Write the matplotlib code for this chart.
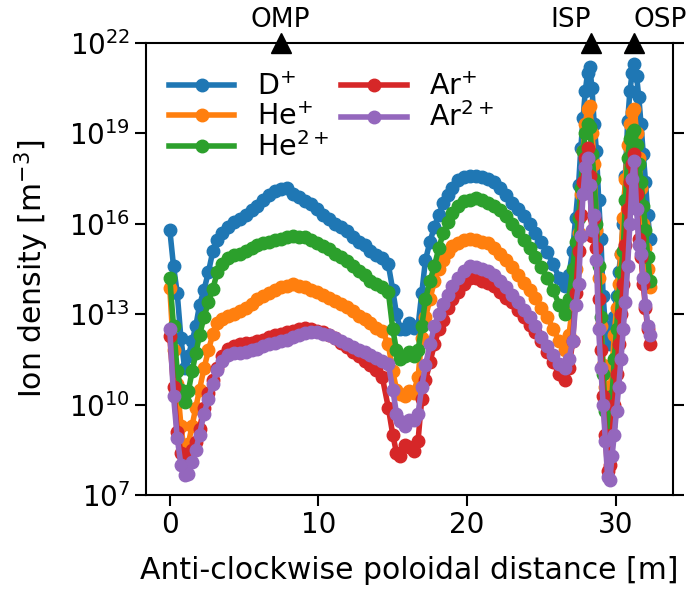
import numpy as np
import matplotlib
matplotlib.use("Agg")
import matplotlib.pyplot as plt
from matplotlib.ticker import NullLocator

# poloidal distance [m]
distance = [
    0.0, 0.25, 0.5, 0.75, 1.0, 1.25, 1.5, 1.75, 2.0, 2.3,
    2.6, 2.9, 3.2, 3.5, 3.9, 4.3, 4.7, 5.1, 5.5, 5.9,
    6.3, 6.7, 7.1, 7.5, 7.9, 8.3, 8.7, 9.1, 9.5, 9.9,
    10.3, 10.7, 11.1, 11.5, 11.9, 12.3, 12.7, 13.1, 13.5, 13.9,
    14.3, 14.7, 15.0, 15.25, 15.5, 15.8, 16.1, 16.4, 16.7, 16.95,
    17.2, 17.5, 17.8, 18.1, 18.4, 18.7, 19.0, 19.4, 19.8, 20.2,
    20.6, 21.0, 21.4, 21.8, 22.2, 22.6, 23.0, 23.4, 23.8, 24.2,
    24.6, 25.0, 25.4, 25.8, 26.2, 26.6, 26.85, 27.1, 27.3, 27.5,
    27.65, 27.8, 27.95, 28.1, 28.25, 28.4, 28.55, 28.7, 28.85, 29.0,
    29.15, 29.3, 29.45, 29.6, 29.75, 29.9, 30.05, 30.2, 30.35, 30.5,
    30.65, 30.8, 30.95, 31.1, 31.25, 31.4, 31.55, 31.7, 31.85, 32.0,
    32.15, 32.3,
]

# log10 of ion density [m^-3]
log_D1 = [
    15.8, 14.6, 13.7, 12.2, 11.2, 11.6, 12.1, 12.6, 13.3, 13.8,
    14.4, 15.1, 15.45, 15.7, 15.9, 16.05, 16.15, 16.3, 16.45, 16.6,
    16.8, 16.95, 17.1, 17.15, 17.2, 17.0, 16.9, 16.75, 16.65, 16.5,
    16.3, 16.15, 16.0, 15.9, 15.75, 15.55, 15.4, 15.3, 15.1, 14.95,
    14.85, 14.65, 13.8, 13.0, 12.5, 12.5, 12.7, 12.55, 12.6, 13.7,
    14.8, 15.4, 15.9, 16.3, 16.7, 16.95, 17.2, 17.45, 17.55, 17.6,
    17.6, 17.55, 17.5, 17.4, 17.2, 16.95, 16.7, 16.5, 16.25, 16.0,
    15.7, 15.4, 15.05, 14.65, 14.2, 13.95, 14.3, 15.1, 16.2, 17.3,
    18.5, 19.5, 20.4, 21.0, 21.2, 20.5, 19.3, 18.4, 16.8, 15.5,
    13.6, 12.6, 12.2, 12.0, 12.4, 12.9, 13.6, 14.4, 15.0, 16.0,
    17.6, 19.4, 20.4, 21.0, 21.3, 20.9, 20.2, 19.3, 18.3, 17.4,
    16.3, 15.5,
]
log_He1 = [
    13.87, 11.8, 10.7, 9.3, 8.33, 8.7, 9.3, 9.9, 10.5, 11.2,
    11.8, 12.35, 12.7, 12.85, 12.95, 13.0, 13.1, 13.2, 13.35, 13.5,
    13.6, 13.7, 13.8, 13.9, 13.95, 14.0, 13.95, 13.9, 13.8, 13.75,
    13.65, 13.55, 13.45, 13.35, 13.25, 13.1, 12.95, 12.85, 12.7, 12.55,
    12.45, 12.0, 11.1, 10.5, 10.35, 10.3, 10.45, 10.4, 10.9, 12.2,
    12.9, 13.5, 14.1, 14.5, 14.8, 15.05, 15.25, 15.35, 15.45, 15.5,
    15.45, 15.4, 15.35, 15.2, 15.0, 14.8, 14.55, 14.3, 14.05, 13.8,
    13.55, 13.2, 12.9, 12.5, 12.1, 11.8, 12.3, 13.3, 14.5, 15.7,
    17.0, 18.4, 19.3, 19.8, 19.9, 19.0, 18.0, 15.8, 14.2, 12.6,
    11.3, 10.6, 10.1, 10.4, 11.2, 12.3, 13.2, 14.0, 15.0, 16.2,
    17.5, 18.6, 19.3, 19.7, 19.8, 19.0, 18.2, 17.2, 16.0, 15.2,
    14.5, 13.9,
]
log_He2 = [
    14.2, 12.6, 11.1, 10.5, 10.1, 10.45, 11.1, 11.7, 12.3, 12.9,
    13.4, 13.85, 14.4, 14.65, 14.85, 14.95, 15.0, 15.1, 15.2, 15.3,
    15.35, 15.4, 15.45, 15.5, 15.55, 15.6, 15.55, 15.55, 15.45, 15.35,
    15.25, 15.15, 15.0, 14.9, 14.75, 14.6, 14.45, 14.3, 14.1, 14.0,
    13.9, 13.75, 12.5, 11.8, 11.5, 11.6, 11.75, 11.6, 11.8, 12.6,
    13.5, 14.1, 14.6, 15.2, 15.7, 16.05, 16.35, 16.6, 16.75, 16.8,
    16.85, 16.8, 16.7, 16.6, 16.45, 16.25, 16.0, 15.75, 15.45, 15.2,
    14.9, 14.55, 14.2, 13.8, 13.3, 13.0, 13.5, 14.5, 15.4, 16.2,
    17.2, 18.4, 19.0, 19.3, 19.2, 18.3, 17.5, 16.0, 14.6, 12.9,
    11.0, 9.8, 9.0, 9.3, 10.3, 11.5, 12.5, 13.6, 14.4, 15.1,
    16.8, 18.2, 18.8, 19.0, 19.1, 18.6, 18.0, 17.4, 16.6, 15.8,
    14.9, 14.1,
]
log_Ar1 = [
    12.27, 10.6, 9.1, 8.4, 7.95, 8.2, 8.5, 8.75, 9.2, 9.9,
    10.4, 10.8, 11.2, 11.6, 11.85, 11.95, 12.0, 12.05, 12.05, 12.1,
    12.15, 12.25, 12.3, 12.35, 12.4, 12.45, 12.5, 12.55, 12.5, 12.45,
    12.4, 12.3, 12.2, 12.05, 11.9, 11.75, 11.6, 11.45, 11.3, 11.15,
    10.9, 9.9, 9.0, 8.4, 8.3, 8.65, 8.6, 8.45, 8.8, 10.2,
    10.8, 11.4, 12.0, 12.5, 12.8, 13.2, 13.5, 13.75, 14.0, 14.2,
    14.2, 14.1, 14.05, 13.95, 13.75, 13.55, 13.4, 13.15, 12.9, 12.65,
    12.4, 12.1, 11.75, 11.4, 11.0, 10.8, 11.2, 12.1, 13.7, 15.1,
    16.3, 17.4, 18.2, 18.5, 17.6, 15.6, 16.2, 15.2, 13.5, 11.8,
    10.3, 9.0, 7.8, 8.0, 9.0, 10.0, 11.0, 12.0, 13.0, 14.0,
    15.3, 16.5, 17.4, 18.0, 18.3, 17.0, 15.5, 14.9, 14.0, 13.2,
    12.5, 12.0,
]
log_Ar2 = [
    12.5, 10.3, 8.9, 8.0, 7.65, 7.7, 8.1, 8.5, 9.0, 9.7,
    10.2, 10.7, 11.15, 11.45, 11.65, 11.7, 11.7, 11.75, 11.8, 11.85,
    11.95, 12.0, 12.05, 12.1, 12.15, 12.25, 12.3, 12.38, 12.42, 12.4,
    12.35, 12.3, 12.2, 12.1, 12.0, 11.9, 11.8, 11.75, 11.65, 11.55,
    11.45, 11.35, 10.5, 9.7, 9.45, 9.3, 9.5, 9.5, 9.7, 10.6,
    11.3, 12.0, 12.6, 13.0, 13.35, 13.65, 13.95, 14.2, 14.45, 14.6,
    14.55, 14.5, 14.45, 14.3, 14.1, 13.9, 13.65, 13.4, 13.15, 12.9,
    12.6, 12.25, 11.95, 11.65, 11.35, 11.2, 11.5, 12.1, 13.3, 14.0,
    15.6, 17.0, 17.9, 18.2, 17.3, 15.8, 16.3, 14.8, 12.5, 11.2,
    10.0, 8.8, 7.6, 7.5, 8.3, 9.0, 9.8, 10.6, 11.5, 12.5,
    13.4, 14.6, 16.0, 17.5, 18.1, 16.5, 15.3, 15.0, 14.2, 13.3,
    12.6, 12.3,
]

species_labels = ["D$^{+}$", "He$^{+}$", "He$^{2+}$", "Ar$^{+}$", "Ar$^{2+}$"]
species_logs = [log_D1, log_He1, log_He2, log_Ar1, log_Ar2]
colors = ["#1f77b4", "#ff7f0e", "#2ca02c", "#d62728", "#9467bd"]

point_x = [7.45, 28.35, 31.2]
point_labels = ["OMP", "ISP", "OSP"]
point_ha = ["center", "right", "left"]

FS_TICK = 20
FS_LABEL = 21.5

fig = plt.figure(figsize=(6.89, 5.9), dpi=100)
ax = fig.add_axes([146 / 689, 95 / 590, (673 - 146) / 689, (495 - 43) / 590])

x = np.array(distance)
for lab, lg, c in zip(species_labels, species_logs, colors):
    ax.plot(x, 10.0 ** np.array(lg), "-o", color=c, lw=4, ms=9, label=lab)

ax.set_yscale("log")
ax.set_ylim(1e7, 1e22)
ax.set_xlim(-1.6, 33.85)
ax.set_yticks([1e7, 1e10, 1e13, 1e16, 1e19, 1e22])
ax.yaxis.set_minor_locator(NullLocator())
ax.set_xticks([0, 10, 20, 30])

ax.tick_params(axis="both", which="major", labelsize=FS_TICK, length=8, width=1.5)
ax.tick_params(axis="y", right=True, labelright=False)
for s in ax.spines.values():
    s.set_linewidth(1.5)

ax.set_xlabel("Anti-clockwise poloidal distance [m]", fontsize=FS_LABEL, labelpad=12)
ax.set_ylabel("Ion density [m$^{-3}$]", fontsize=FS_LABEL, labelpad=13)

ax.plot(point_x, [1e22] * len(point_x), "^", color="k", ms=15, clip_on=False, zorder=10)
for px, lab, ha in zip(point_x, point_labels, point_ha):
    ax.annotate(lab, xy=(px, 1e22), xytext=(0, 11.5), textcoords="offset points",
                ha=ha, va="baseline", fontsize=19, annotation_clip=False)

ax.legend(loc="upper left", bbox_to_anchor=(-0.005, 0.99), ncol=2, frameon=False,
          fontsize=20.5, handlelength=2.3, handletextpad=0.8, columnspacing=0.4,
          labelspacing=0.05, borderaxespad=0.5)

fig.savefig("out.png", dpi=100)
